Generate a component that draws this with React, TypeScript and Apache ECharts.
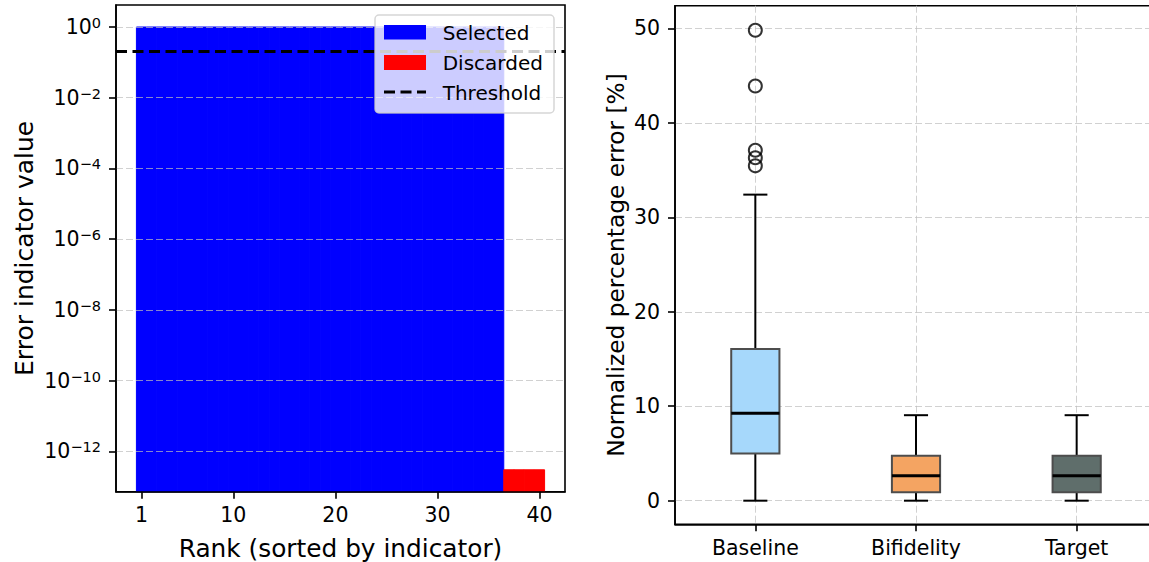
import React, { useEffect, useRef } from "react";
import * as echarts from "echarts";

const FONT = "DejaVu Sans";

// Left panel: error indicator by rank
const selectedRanks = [1, 2, 3, 4, 5, 6, 7, 8, 9, 10, 11, 12, 13, 14, 15, 16, 17, 18, 19, 20, 21, 22, 23, 24, 25, 26, 27, 28, 29, 30, 31, 32, 33, 34, 35, 36];
const selectedValues = [1, 1, 1, 1, 1, 1, 1, 1, 1, 1, 1, 1, 1, 1, 1, 1, 1, 1, 1, 1, 1, 1, 1, 1, 1, 1, 1, 1, 1, 1, 1, 1, 1, 1, 1, 1];
const discardedRanks = [37, 38, 39, 40];
const discardedValues = [3e-13, 3e-13, 3e-13, 3e-13];
const threshold = 0.2;
const rankTicks = [1, 10, 20, 30, 40];
const logTicks = [1e-12, 1e-10, 1e-8, 1e-6, 1e-4, 1e-2, 1];
const logMin = 7.2e-14;
const logMax = 4.19;

// Right panel: boxplot
const methods = ["Baseline", "Bifidelity", "Target"];
const whiskerLow = [0, 0, 0];
const q1 = [5.0, 0.9, 0.9];
const median = [9.25, 2.65, 2.65];
const q3 = [16.05, 4.77, 4.77];
const whiskerHigh = [32.4, 9.05, 9.05];
const baselineOutliers = [49.8, 43.9, 37.1, 36.3, 35.45];
const boxColors = ["#a6d8fb", "#f4a462", "#5f6e6b"];
const errorTicks = [0, 10, 20, 30, 40, 50];

const GRID_COLOR = "rgba(190,190,190,0.7)";
const TICK_FS = 20.5;

function barRenderer(color: string) {
  return (params: any, api: any) => {
    const r = api.value(0);
    const v = api.value(1);
    const p0 = api.coord([r - 0.5, v]);
    const p1 = api.coord([r + 0.5, v]);
    const cs = params.coordSys;
    const bottom = cs.y + cs.height;
    return {
      type: "rect",
      shape: { x: p0[0], y: p0[1], width: p1[0] - p0[0], height: bottom - p0[1] },
      style: { fill: color, stroke: color, lineWidth: 1 },
    };
  };
}

function boxRenderer(params: any, api: any) {
  const x = api.value(0);
  const lo = api.value(1);
  const a = api.value(2);
  const m = api.value(3);
  const b = api.value(4);
  const hi = api.value(5);
  const unit = api.size([1, 0])[0];
  const bw = unit * 0.3;
  const cw = unit * 0.15;
  const pLo = api.coord([x, lo]);
  const pA = api.coord([x, a]);
  const pM = api.coord([x, m]);
  const pB = api.coord([x, b]);
  const pHi = api.coord([x, hi]);
  const cx = pM[0];
  const idx = params.dataIndex;
  const wStyle = { stroke: "#000", lineWidth: 2 };
  return {
    type: "group",
    children: [
      { type: "line", shape: { x1: cx, y1: pA[1], x2: cx, y2: pLo[1] }, style: wStyle },
      { type: "line", shape: { x1: cx, y1: pB[1], x2: cx, y2: pHi[1] }, style: wStyle },
      { type: "line", shape: { x1: cx - cw / 2, y1: pLo[1], x2: cx + cw / 2, y2: pLo[1] }, style: wStyle },
      { type: "line", shape: { x1: cx - cw / 2, y1: pHi[1], x2: cx + cw / 2, y2: pHi[1] }, style: wStyle },
      {
        type: "rect",
        shape: { x: cx - bw / 2, y: pB[1], width: bw, height: pA[1] - pB[1] },
        style: { fill: boxColors[idx], stroke: "#4d4d4d", lineWidth: 2 },
      },
      { type: "line", shape: { x1: cx - bw / 2, y1: pM[1], x2: cx + bw / 2, y2: pM[1] }, style: { stroke: "#000", lineWidth: 3 } },
    ],
  };
}

function supLabel(v: number) {
  const e = Math.round(Math.log10(v));
  const s = e < 0 ? "\u2212" + String(-e) : String(e);
  return "{b|10}{s|" + s + "}";
}

export default function App() {
  const ref = useRef<HTMLDivElement>(null);
  useEffect(() => {
    if (!ref.current) return;
    const chart = echarts.init(ref.current, null, { renderer: "svg" });
    const axisLineStyle = { color: "#000", width: 1.6 };
    const legendText = (text: string, y: number) => ({
      type: "text",
      z: 102,
      x: 442.7,
      y,
      style: { text, fontSize: 20, fontFamily: FONT, fill: "#000", verticalAlign: "middle", align: "left" },
    });
    const option: any = {
      animation: false,
      backgroundColor: "#fff",
      textStyle: { fontFamily: FONT, color: "#000" },
      grid: [
        { left: 116, top: 5, width: 449, height: 486.7, show: true, borderColor: "#000", borderWidth: 1.6, backgroundColor: "transparent", containLabel: false, outerBoundsMode: "none" },
        { left: 675, top: 5.7, width: 482, height: 518.6, show: true, borderColor: "#000", borderWidth: 1.6, backgroundColor: "transparent", containLabel: false, outerBoundsMode: "none" },
      ],
      xAxis: [
        {
          gridIndex: 0,
          type: "value",
          min: -1.5,
          max: 42.5,
          z: 3,
          axisLine: { show: true, onZero: false, lineStyle: axisLineStyle },
          axisTick: { show: true, length: 7, lineStyle: axisLineStyle, customValues: rankTicks },
          axisLabel: { customValues: rankTicks, fontSize: TICK_FS, color: "#000", margin: 13, fontFamily: FONT },
          splitLine: { show: false },
          name: "Rank (sorted by indicator)",
          nameLocation: "middle",
          nameGap: 44,
          nameTextStyle: { fontSize: 24.8, color: "#000", fontFamily: FONT },
        },
        {
          gridIndex: 1,
          type: "value",
          min: 0.5,
          max: 3.5,
          axisLine: { show: true, onZero: false, lineStyle: axisLineStyle },
          axisTick: { show: true, length: 7, lineStyle: axisLineStyle, customValues: [1, 2, 3] },
          axisLabel: {
            customValues: [1, 2, 3],
            fontSize: TICK_FS,
            color: "#000",
            margin: 13,
            fontFamily: FONT,
            formatter: (v: number) => methods[Math.round(v) - 1],
          },
          splitLine: { show: true, lineStyle: { color: GRID_COLOR, type: [7, 3], width: 1 } },
        },
      ],
      yAxis: [
        {
          gridIndex: 0,
          type: "log",
          logBase: 10,
          min: logMin,
          max: logMax,
          z: 3,
          axisLine: { show: true, onZero: false, lineStyle: axisLineStyle },
          axisTick: { show: true, length: 7, lineStyle: axisLineStyle, customValues: logTicks },
          axisLabel: {
            customValues: logTicks,
            margin: 15,
            formatter: supLabel,
            rich: {
              b: { fontSize: TICK_FS, fontFamily: FONT, color: "#000", lineHeight: 23 },
              s: { fontSize: 14.5, fontFamily: FONT, color: "#000", lineHeight: 10, verticalAlign: "top" },
            },
          },
          splitLine: { show: true, lineStyle: { color: GRID_COLOR, type: [7, 3], width: 1 } },
          name: "Error indicator value",
          nameLocation: "middle",
          nameGap: 79,
          nameTextStyle: { fontSize: 25, color: "#000", fontFamily: FONT },
        },
        {
          gridIndex: 1,
          type: "value",
          min: -2.5,
          max: 52.4,
          axisLine: { show: true, onZero: false, lineStyle: axisLineStyle },
          axisTick: { show: true, length: 7, lineStyle: axisLineStyle, customValues: errorTicks },
          axisLabel: { customValues: errorTicks, fontSize: TICK_FS, color: "#000", margin: 15, fontFamily: FONT },
          splitLine: { show: true, lineStyle: { color: GRID_COLOR, type: [7, 3], width: 1 } },
          name: "Normalized percentage error [%]",
          nameLocation: "middle",
          nameGap: 48,
          nameTextStyle: { fontSize: 23.3, color: "#000", fontFamily: FONT },
        },
      ],
      series: [
        {
          name: "Selected",
          type: "custom",
          xAxisIndex: 0,
          yAxisIndex: 0,
          renderItem: barRenderer("#0000ff"),
          encode: { x: 0, y: 1 },
          data: selectedRanks.map((r, i) => [r, selectedValues[i]]),
          z: 2,
        },
        {
          name: "Discarded",
          type: "custom",
          xAxisIndex: 0,
          yAxisIndex: 0,
          renderItem: barRenderer("#ff0000"),
          encode: { x: 0, y: 1 },
          data: discardedRanks.map((r, i) => [r, discardedValues[i]]),
          z: 2,
        },
        {
          name: "Threshold",
          type: "line",
          xAxisIndex: 0,
          yAxisIndex: 0,
          data: [],
          z: 4,
          markLine: {
            silent: true,
            symbol: "none",
            label: { show: false },
            lineStyle: { color: "#000", type: [11, 5.5], width: 3 },
            data: [{ yAxis: threshold }],
          },
        },
        {
          name: "Boxes",
          type: "custom",
          xAxisIndex: 1,
          yAxisIndex: 1,
          renderItem: boxRenderer,
          encode: { x: 0, y: [1, 2, 3, 4, 5] },
          data: methods.map((_, i) => [i + 1, whiskerLow[i], q1[i], median[i], q3[i], whiskerHigh[i]]),
          z: 2,
        },
        {
          name: "Outliers",
          type: "scatter",
          xAxisIndex: 1,
          yAxisIndex: 1,
          symbol: "circle",
          symbolSize: 13,
          itemStyle: { color: "rgba(0,0,0,0)", borderColor: "#000", borderWidth: 2 },
          data: baselineOutliers.map((v) => [1, v]),
          z: 3,
        },
      ],
      graphic: {
        elements: [
          {
            type: "rect",
            z: 100,
            shape: { x: 375, y: 15, width: 179, height: 98, r: 4 },
            style: { fill: "rgba(255,255,255,0.8)", stroke: "rgba(204,204,204,0.8)", lineWidth: 1.5 },
          },
          { type: "rect", z: 101, shape: { x: 384, y: 25, width: 42, height: 14.5 }, style: { fill: "#0000ff" } },
          { type: "rect", z: 101, shape: { x: 384, y: 55, width: 42, height: 15 }, style: { fill: "#ff0000" } },
          {
            type: "line",
            z: 101,
            shape: { x1: 384, y1: 92, x2: 426, y2: 92 },
            style: { stroke: "#000", lineWidth: 3, lineDash: [11, 5.5] },
          },
          legendText("Selected", 33),
          legendText("Discarded", 63),
          legendText("Threshold", 93),
        ],
      },
    };
    chart.setOption(option);
    return () => {
      chart.dispose();
    };
  }, []);
  return <div ref={ref} style={{ position: "absolute", left: 0, top: 0, width: 1149, height: 562 }} />;
}
